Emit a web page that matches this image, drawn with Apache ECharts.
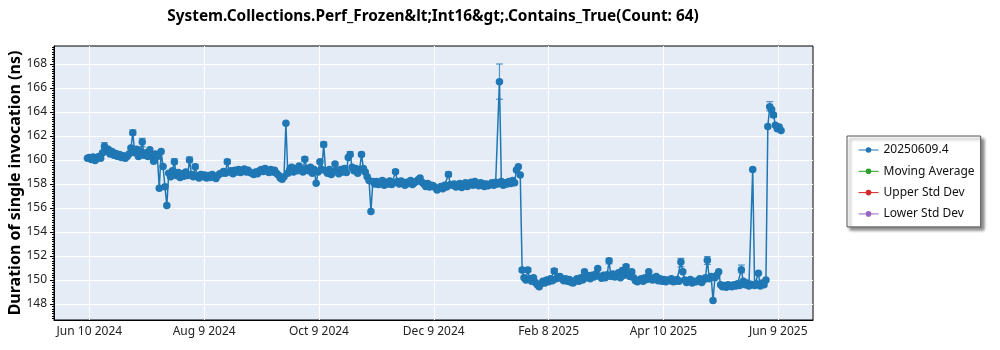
<!DOCTYPE html>
<html><head><meta charset="utf-8">
<script src="https://cdn.jsdelivr.net/npm/echarts@6/dist/echarts.min.js"></script>
<style>html,body{margin:0;padding:0;background:#fff}#c{width:1000px;height:350px}</style>
</head><body><div id="c"></div>
<script>
const titleText = 'System.Collections.Perf_Frozen&lt;Int16&gt;.Contains_True(Count: 64)';
const yAxisTitle = 'Duration of single invocation (ns)';
const legendNames = ['20250609.4', 'Moving Average', 'Upper Std Dev', 'Lower Std Dev'];
const legendColors = ['#1f77b4', '#2ca02c', '#d62728', '#9467bd'];
// x is measured in days from the axis origin date (Jun 10 2024)
const axisOriginDate = '2024-06-10';
const firstPointDate = '2024-06-09';
const xTickDays = [0, 60.75, 121.5, 182.25, 243, 303.75, 364.5];
const xTickLabels = ['Jun 10 2024', 'Aug 9 2024', 'Oct 9 2024', 'Dec 9 2024', 'Feb 8 2025', 'Apr 10 2025', 'Jun 9 2025'];
const yTickValues = [148, 150, 152, 154, 156, 158, 160, 162, 164, 166, 168];
// one value per day, starting at firstPointDate
const durations = [
  160.15, 160.2, 160.05, 160.25, 159.95, 160.1, 160.3, 160.15, 160.6, 161.15, 160.7,
  160.9, 160.5, 160.7, 160.4, 160.55, 160.3, 160.45, 160.2, 160.35, 160.15,
  160.3, 160.5, 161.0, 162.28, 160.6, 160.9, 160.3, 160.7, 161.5, 160.4,
  160.6, 160.3, 160.85, 160.4, 159.9, 160.5, 160.3, 157.64, 160.7, 159.45,
  157.78, 156.2, 158.9, 158.6, 159.1, 159.86, 158.7, 158.95, 158.55, 158.85,
  158.65, 159.0, 158.7, 160.0, 158.8, 158.6, 159.44, 158.7, 158.5, 158.8,
  158.6, 158.75, 158.5, 158.7, 158.55, 158.8, 158.6, 158.45, 158.7, 158.85,
  158.9, 159.05, 158.9, 159.86, 159.0, 159.1, 158.85, 159.15, 159.0, 159.2,
  158.95, 159.1, 159.25, 159.0, 159.15, 158.95, 158.9, 158.8, 159.0, 158.85,
  159.1, 159.2, 159.05, 159.3, 159.1, 158.95, 159.2, 159.0, 159.15, 158.9,
  158.75, 158.5, 158.4, 158.6, 163.06, 158.9, 159.2, 159.4, 159.0, 159.3,
  159.1, 159.5, 159.2, 159.0, 160.06, 159.3, 159.1, 159.4, 158.9, 159.2,
  158.06, 159.0, 159.86, 159.2, 161.3, 159.1, 158.9, 159.2, 158.8, 159.0,
  159.67, 159.1, 158.85, 159.2, 159.0, 159.3, 158.95, 160.22, 160.47, 159.4,
  159.1, 159.3, 158.9, 159.2, 160.47, 159.3, 159.0, 158.6, 158.3, 155.7,
  158.2, 158.0, 158.2, 157.95, 158.1, 158.3, 157.9, 158.15, 158.0, 158.25,
  157.95, 158.1, 159.03, 158.2, 158.0, 158.25, 158.1, 157.9, 158.15, 158.05,
  158.3, 157.95, 158.1, 158.2, 158.35, 158.5, 158.15, 158.0, 157.8, 158.05,
  157.75, 157.9, 157.85, 157.7, 157.5, 157.65, 157.8, 157.6, 157.9, 157.75,
  158.8, 157.95, 157.9, 158.0, 157.75, 157.85, 158.05, 157.7, 157.95, 158.1,
  157.8, 158.0, 158.15, 157.9, 158.2, 158.0, 157.85, 158.1, 158.05, 157.8,
  158.0, 157.85, 157.95, 158.1, 157.9, 158.15, 158.0, 166.53, 158.2, 157.9,
  158.1, 158.0, 158.2, 158.05, 158.3, 158.1, 159.17, 159.44, 158.75, 150.83,
  150.2, 150.0, 150.83, 150.1, 149.9, 150.2, 149.8, 149.6, 149.44, 149.7,
  149.9, 149.75, 150.0, 149.85, 150.1, 149.95, 150.75, 150.1, 150.25, 150.3,
  150.1, 149.95, 150.1, 149.9, 150.05, 149.8, 149.75, 149.95, 150.1, 149.9,
  150.2, 150.0, 150.7, 150.2, 150.35, 150.1, 150.4, 150.25, 150.5, 150.97,
  150.3, 150.15, 150.4, 150.2, 150.45, 151.6, 150.3, 150.5, 150.25, 150.4,
  150.6, 150.2, 150.8, 150.4, 151.1, 150.5, 150.3, 150.7, 150.2, 149.95,
  149.85, 150.0, 150.1, 149.9, 150.2, 150.05, 150.7, 150.2, 150.0, 150.15,
  150.3, 149.95, 150.1, 149.9, 150.05, 149.85, 150.0, 149.95, 150.1, 149.85,
  149.9, 150.05, 149.9, 151.5, 150.7, 150.0, 149.8, 149.9, 150.05, 149.75,
  149.9, 149.85, 149.95, 150.1, 149.8, 150.0, 150.2, 151.65, 150.1, 150.3,
  148.3, 150.2, 150.4, 150.7, 149.6, 149.45, 149.55, 149.4, 149.6, 149.5,
  149.45, 149.6, 149.5, 149.7, 149.55, 150.85, 149.9, 149.6, 149.75, 149.5,
  149.65, 159.22, 149.55, 149.7, 150.56, 149.5, 149.75, 149.6, 150.0, 162.8,
  164.44, 164.2, 163.75, 162.9, 162.6, 162.75, 162.45
];
// [day offset from axis origin, lower, upper]
const errorBars = [
  [8, 160.95, 161.45], [23, 162.1, 162.5], [28, 161.1, 161.8], [45, 159.7, 160.1],
  [53, 159.85, 160.25], [56, 159.3, 159.65], [73, 159.7, 160.05], [114, 159.9, 160.25],
  [124, 161.1, 161.5], [138, 160.3, 160.7], [144, 160.3, 160.65], [162, 158.9, 159.2],
  [190, 158.65, 159.0], [217, 165.06, 168.0], [229, 150.7, 151.0], [232, 150.7, 151.0],
  [246, 150.6, 150.95], [275, 151.35, 151.8], [284, 150.9, 151.3], [313, 151.1, 151.8],
  [327, 151.3, 151.95], [345, 150.6, 151.25], [351, 159.1, 159.3], [360, 164.1, 164.86],
  [362, 163.55, 163.9]
];

const DAY = 86400000;
const firstOffset = Math.round((Date.parse(firstPointDate) - Date.parse(axisOriginDate)) / DAY);
const lineData = durations.map((v, i) => [firstOffset + i, v]);
const FONT = 'Noto Sans';

const chart = echarts.init(document.getElementById('c'));
chart.setOption({
  animation: false,
  textStyle: { fontFamily: FONT },
  title: {
    text: titleText, left: 428, top: 4, textAlign: 'center',
    textStyle: { fontFamily: FONT, fontSize: 15.4, fontWeight: 'bold', color: '#000' }
  },
  grid: {
    left: 54, right: 187, top: 46, bottom: 30, show: true, containLabel: false, outerBoundsMode: 'none',
    backgroundColor: '#E5ECF6', borderColor: '#000', borderWidth: 1
  },
  legend: {
    data: legendNames, orient: 'vertical', left: 847, top: 136,
    padding: [8, 6, 7, 11], itemGap: 9.3, itemWidth: 20, itemHeight: 7,
    backgroundColor: '#fff', borderColor: '#555', borderWidth: 1,
    shadowColor: 'rgba(0,0,0,0.45)', shadowOffsetX: 3, shadowOffsetY: 3, shadowBlur: 3,
    lineStyle: { width: 1 },
    textStyle: { fontFamily: FONT, fontSize: 12, color: '#111' }
  },
  xAxis: {
    type: 'value', min: -18.7, max: 382.9,
    axisLine: { show: true, onZero: false, lineStyle: { color: '#000', width: 1 } },
    axisTick: { show: false, customValues: xTickDays },
    axisLabel: {
      customValues: xTickDays, margin: 6, color: '#222', fontSize: 12, fontFamily: FONT,
      formatter: v => { const i = xTickDays.findIndex(t => Math.abs(t - v) < 0.01); return i >= 0 ? xTickLabels[i] : ''; }
    },
    splitLine: { show: true, lineStyle: { color: '#fff', width: 1 } }
  },
  yAxis: {
    type: 'value', min: 146.67, max: 169.5, splitNumber: 11,
    name: yAxisTitle, nameLocation: 'middle', nameGap: 31, nameMoveOverlap: false,
    nameTextStyle: { fontFamily: FONT, fontSize: 16, fontWeight: 'bold', color: '#000' },
    axisLine: { show: true, onZero: false, lineStyle: { color: '#000', width: 1 } },
    axisTick: { show: true, customValues: yTickValues, length: 4, lineStyle: { color: '#000' } },
    minorTick: { show: true, splitNumber: 10, length: 2, lineStyle: { color: '#000' } },
    axisLabel: { customValues: yTickValues, margin: 7, color: '#222', fontSize: 12, fontFamily: FONT },
    splitLine: { show: true, lineStyle: { color: '#fff', width: 1 } }
  },
  series: [
    {
      name: legendNames[0], type: 'line', data: lineData, color: legendColors[0],
      symbol: 'circle', symbolSize: 7.5, showAllSymbol: true,
      lineStyle: { width: 1.5 }, z: 3
    },
    {
      name: 'err', type: 'custom', data: errorBars, z: 4,
      encode: { x: 0, y: [1, 2] },
      renderItem: (params, api) => {
        const x = api.value(0);
        const lo = api.coord([x, api.value(1)]);
        const hi = api.coord([x, api.value(2)]);
        const w = 3.5;
        const style = { stroke: legendColors[0], lineWidth: 1.2, opacity: 0.75 };
        return { type: 'group', children: [
          { type: 'line', shape: { x1: lo[0], y1: lo[1], x2: hi[0], y2: hi[1] }, style },
          { type: 'line', shape: { x1: lo[0] - w, y1: lo[1], x2: lo[0] + w, y2: lo[1] }, style },
          { type: 'line', shape: { x1: hi[0] - w, y1: hi[1], x2: hi[0] + w, y2: hi[1] }, style }
        ]};
      }
    },
    { name: legendNames[1], type: 'line', data: [], color: legendColors[1], symbol: 'circle' },
    { name: legendNames[2], type: 'line', data: [], color: legendColors[2], symbol: 'circle' },
    { name: legendNames[3], type: 'line', data: [], color: legendColors[3], symbol: 'circle' }
  ]
});
</script></body></html>
